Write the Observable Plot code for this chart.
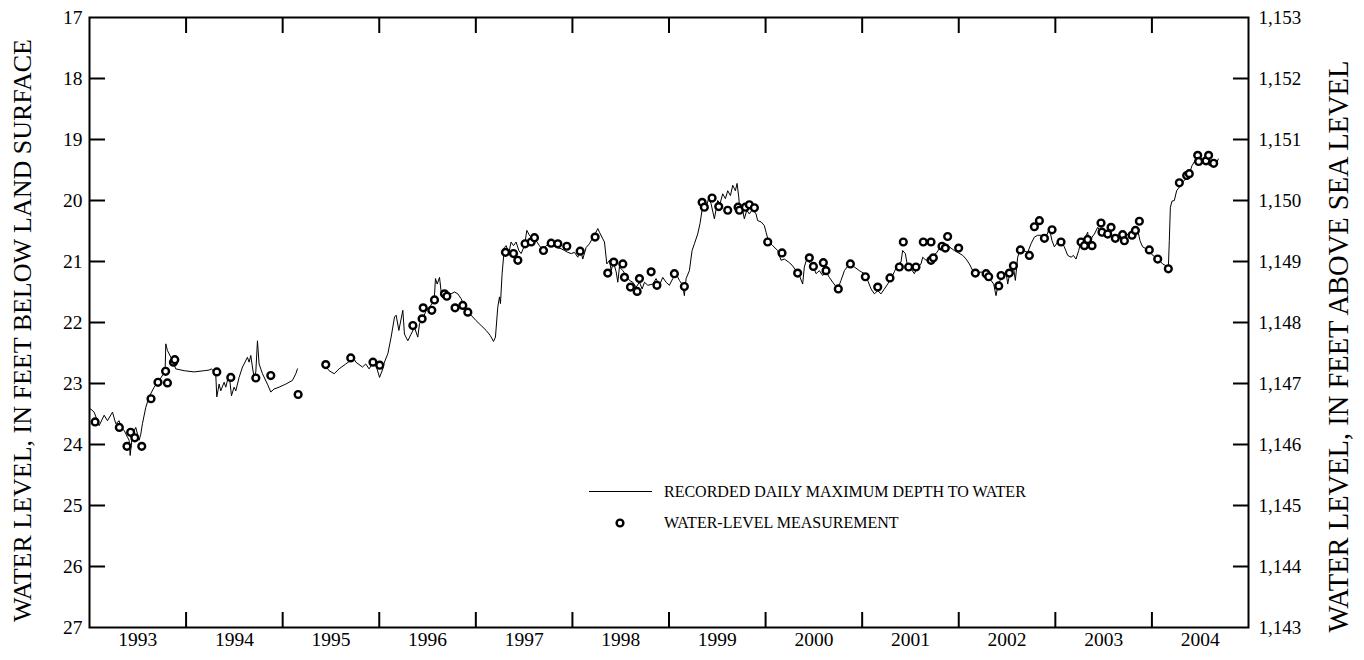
<!DOCTYPE html>
<html><head><meta charset="utf-8">
<script src="https://cdn.jsdelivr.net/npm/d3@7"></script>
<script src="https://cdn.jsdelivr.net/npm/@observablehq/plot@0.6"></script>
<style>
html,body{margin:0;padding:0;background:#fff;}
#wrap{position:relative;width:1364px;height:660px;font-family:"Liberation Serif","Times New Roman",serif;color:#000;}
.lg{position:absolute;font-size:16px;line-height:1;white-space:nowrap;transform:translateY(-50%);}
</style></head><body><div id="wrap"></div>
<script>
// ---- data ----
const landSurfaceAltitude = 1170; // ft above sea level, converts depth to altitude
const yearBoundaries = d3.range(1994, 2005);
const yearLabels = d3.range(1993, 2005);
const depthTicks = d3.range(17, 28);
const yTitleLeft = "WATER LEVEL, IN FEET BELOW LAND SURFACE";
const yTitleRight = "WATER LEVEL, IN FEET ABOVE SEA LEVEL";
const legendLabels = ["RECORDED DAILY MAXIMUM DEPTH TO WATER", "WATER-LEVEL MEASUREMENT"];

const recordedYear = [1993.000,1993.014,1993.048,1993.100,1993.152,1993.186,1993.238,1993.272,1993.307,1993.324,1993.359,1993.393,1993.410,1993.421,1993.445,1993.479,1993.514,1993.531,1993.548,1993.583,1993.617,1993.669,1993.721,1993.766,1993.783,1993.790,1993.807,1993.859,1993.893,1993.980,1994.083,1994.187,1994.238,1994.263,1994.307,1994.318,1994.342,1994.359,1994.394,1994.411,1994.445,1994.470,1994.497,1994.515,1994.549,1994.584,1994.601,1994.635,1994.653,1994.670,1994.687,1994.704,1994.722,1994.739,1994.756,1994.791,1994.842,1994.877,1994.911,1994.963,1995.032,1995.101,1995.136,1995.153,
1995.300,
1995.429,1995.481,1995.533,1995.584,1995.653,1995.705,1995.722,1995.757,1995.826,1995.860,1995.895,1995.951,1996.003,1996.037,1996.054,1996.089,1996.123,1996.158,1996.175,1996.203,1996.244,1996.261,1996.296,1996.330,1996.365,1996.399,1996.417,1996.451,1996.486,1996.520,1996.555,1996.572,1996.582,1996.600,1996.624,1996.641,1996.675,1996.710,1996.744,1996.779,1996.813,1996.848,1996.900,1996.951,1997.003,1997.055,1997.107,1997.148,1997.183,1997.203,1997.227,1997.245,1997.255,1997.272,1997.296,1997.314,1997.341,1997.365,1997.390,1997.417,1997.445,1997.469,1997.504,1997.528,1997.555,1997.590,1997.624,1997.659,1997.693,1997.728,1997.780,1997.831,1997.883,1997.918,1997.952,1997.987,1998.021,1998.056,1998.083,1998.107,1998.142,1998.176,1998.204,1998.228,1998.263,1998.280,1998.315,1998.332,1998.356,1998.384,1998.401,1998.425,1998.453,1998.470,1998.487,1998.522,1998.556,1998.591,1998.625,1998.660,1998.694,1998.722,1998.746,1998.781,1998.832,1998.866,1998.901,1998.935,1998.970,1999.004,1999.039,1999.073,1999.108,1999.142,1999.159,1999.177,1999.211,1999.239,1999.263,1999.297,1999.321,1999.342,1999.359,1999.384,1999.411,1999.435,1999.470,1999.504,1999.529,1999.556,1999.584,1999.608,1999.636,1999.660,1999.687,1999.705,1999.722,1999.736,1999.756,1999.780,1999.805,1999.832,1999.867,1999.901,1999.918,1999.953,1999.987,2000.005,2000.032,2000.074,2000.125,2000.160,2000.194,2000.239,2000.274,2000.315,2000.350,2000.384,2000.401,2000.426,2000.453,2000.495,2000.523,2000.557,2000.591,2000.626,2000.660,2000.695,2000.747,2000.781,2000.816,2000.867,2000.919,2000.971,2001.023,2001.057,2001.092,2001.126,2001.161,2001.195,2001.230,2001.264,2001.299,2001.333,2001.368,2001.402,2001.419,2001.447,2001.471,2001.506,2001.540,2001.575,2001.609,2001.627,2001.661,2001.695,2001.730,2001.765,2001.799,2001.834,2001.868,2001.903,2001.954,2001.989,2002.041,2002.076,2002.110,2002.145,2002.196,2002.231,2002.265,2002.300,2002.334,2002.362,2002.386,2002.403,2002.428,2002.455,2002.490,2002.507,2002.531,2002.566,2002.586,2002.610,2002.635,2002.669,2002.714,2002.748,2002.783,2002.817,2002.852,2002.904,2002.938,2002.966,2002.990,2003.025,2003.059,2003.093,2003.128,2003.163,2003.187,2003.214,2003.242,2003.266,2003.290,2003.311,2003.335,2003.352,2003.380,2003.404,2003.439,2003.473,2003.508,2003.542,2003.577,2003.611,2003.646,2003.680,2003.715,2003.766,2003.818,2003.853,2003.877,2003.904,2003.939,2003.973,2004.008,2004.042,2004.077,2004.111,2004.146,2004.170,2004.180,2004.191,2004.208,2004.232,2004.256,2004.284,2004.318,2004.353,2004.387,2004.415,2004.456,2004.491,2004.525,2004.560,2004.594,2004.629,2004.663,2004.688];
const recordedDepth = [23.42,23.42,23.47,23.69,23.52,23.61,23.47,23.66,23.61,23.72,23.77,23.88,23.93,24.18,23.83,23.72,23.93,23.83,23.66,23.39,23.22,23.06,22.95,22.84,22.79,22.35,22.46,22.62,22.76,22.79,22.81,22.79,22.78,22.76,22.84,23.22,23.01,23.12,22.98,23.06,22.84,23.20,23.06,23.12,22.90,22.73,22.68,22.57,22.65,22.54,22.73,22.90,22.81,22.30,22.68,22.84,23.01,23.14,23.09,23.06,23.01,22.95,22.84,22.76,
null,
22.68,22.79,22.84,22.76,22.68,22.62,22.54,22.65,22.73,22.68,22.76,22.62,22.90,22.76,22.65,22.51,22.24,21.91,21.88,22.13,21.80,22.19,22.30,22.19,22.08,22.24,22.02,21.94,21.80,21.75,21.67,21.56,21.28,21.37,21.26,21.50,21.56,21.50,21.53,21.50,21.53,21.61,21.80,21.88,21.97,22.05,22.13,22.21,22.31,22.24,21.75,21.58,21.69,21.20,20.77,20.74,20.87,20.68,20.74,20.68,20.82,20.87,20.74,20.49,20.57,20.63,20.66,20.74,20.82,20.74,20.71,20.77,20.79,20.82,20.85,20.87,20.85,20.93,20.79,20.96,20.77,20.71,20.63,20.57,20.46,20.52,20.63,20.68,21.04,20.98,21.15,21.01,21.17,21.34,21.09,21.15,21.23,21.31,21.34,21.42,21.34,21.45,21.34,21.39,21.37,21.28,21.39,21.26,21.34,21.39,21.28,21.20,21.31,21.39,21.56,21.28,21.15,20.82,20.71,20.55,20.38,20.16,20.03,20.11,19.97,20.05,20.30,20.00,20.05,19.89,19.97,19.84,19.92,19.75,19.84,19.72,19.94,20.22,20.11,20.30,20.16,20.22,20.14,20.22,20.33,20.35,20.41,20.52,20.68,20.74,20.82,20.98,20.96,21.01,21.06,21.15,21.23,21.37,21.09,20.96,21.01,21.09,21.20,21.15,21.23,21.17,21.26,21.34,21.45,21.31,21.15,21.04,21.09,21.15,21.20,21.31,21.45,21.53,21.48,21.53,21.45,21.37,21.28,21.17,21.04,21.01,20.82,20.87,21.09,21.12,21.20,21.09,21.04,20.93,20.98,20.96,20.90,20.87,20.79,20.76,20.74,20.76,20.82,20.85,20.90,20.96,21.04,21.15,21.20,21.17,21.20,21.23,21.31,21.37,21.56,21.42,21.31,21.23,21.17,21.37,21.17,21.09,21.31,20.93,20.82,20.82,20.85,20.71,20.60,20.57,20.57,20.60,20.46,20.66,20.76,20.68,20.66,20.76,20.90,20.93,20.90,20.96,20.82,20.66,20.79,20.60,20.52,20.76,20.60,20.55,20.44,20.52,20.55,20.57,20.57,20.60,20.60,20.63,20.57,20.55,20.57,20.49,20.66,20.76,20.79,20.82,20.90,20.93,20.98,21.04,21.07,21.12,20.66,20.11,20.01,20.00,19.84,19.78,19.70,19.64,19.56,19.43,19.32,19.29,19.37,19.29,19.43,19.34,19.40,19.32];

const measuredYear = [1993.058,1993.309,1993.388,1993.426,1993.469,1993.541,1993.637,1993.709,1993.788,1993.807,1993.869,1993.883,1994.318,1994.463,1994.722,1994.877,1995.160,1995.446,1995.705,1995.935,1996.005,1996.348,1996.444,1996.455,1996.544,1996.572,1996.675,1996.700,1996.785,1996.865,1996.917,1997.307,1997.390,1997.435,1997.510,1997.573,1997.607,1997.700,1997.780,1997.849,1997.942,1998.080,1998.235,1998.366,1998.428,1998.522,1998.539,1998.601,1998.670,1998.694,1998.815,1998.875,1999.056,1999.159,1999.343,1999.366,1999.446,1999.515,1999.608,1999.715,1999.729,1999.791,1999.832,1999.884,2000.022,2000.170,2000.332,2000.453,2000.495,2000.598,2000.626,2000.753,2000.878,2001.033,2001.161,2001.288,2001.385,2001.426,2001.481,2001.557,2001.633,2001.713,2001.713,2001.737,2001.827,2001.861,2001.885,2001.999,2002.172,2002.283,2002.310,2002.414,2002.438,2002.524,2002.566,2002.638,2002.731,2002.783,2002.835,2002.887,2002.966,2003.059,2003.266,2003.301,2003.335,2003.380,2003.473,2003.483,2003.542,2003.577,2003.621,2003.697,2003.715,2003.794,2003.829,2003.870,2003.973,2004.060,2004.170,2004.284,2004.360,2004.387,2004.474,2004.484,2004.560,2004.587,2004.639];
const measuredDepth = [23.63,23.72,24.03,23.80,23.89,24.03,23.25,22.98,22.80,22.99,22.65,22.61,22.81,22.90,22.91,22.87,23.18,22.69,22.58,22.65,22.70,22.05,21.94,21.76,21.80,21.63,21.53,21.57,21.76,21.72,21.83,20.85,20.87,20.98,20.71,20.68,20.61,20.82,20.70,20.71,20.75,20.83,20.60,21.19,21.01,21.04,21.26,21.42,21.49,21.28,21.17,21.39,21.20,21.41,20.03,20.11,19.96,20.10,20.16,20.11,20.16,20.11,20.07,20.12,20.68,20.86,21.19,20.94,21.08,21.02,21.15,21.45,21.04,21.25,21.42,21.27,21.09,20.68,21.09,21.09,20.68,20.68,20.98,20.94,20.75,20.78,20.59,20.78,21.19,21.20,21.25,21.40,21.23,21.19,21.07,20.81,20.90,20.43,20.33,20.62,20.48,20.68,20.68,20.74,20.64,20.74,20.37,20.52,20.55,20.44,20.62,20.56,20.66,20.57,20.49,20.34,20.81,20.96,21.12,19.71,19.59,19.56,19.26,19.36,19.35,19.26,19.39];

// ---- build ----
const recorded = recordedYear.map((x, i) => ({x, y: recordedDepth[i]}));
const measured = measuredYear.map((x, i) => ({x, y: measuredDepth[i]}));
const fmt = d3.format(",");
const innerDepth = depthTicks.slice(1, -1);

const chart = Plot.plot({
  width: 1364, height: 660,
  marginLeft: 89, marginRight: 116, marginTop: 17, marginBottom: 33,
  style: {fontFamily: '"Liberation Serif","Times New Roman",serif', fontSize: "19px", color: "black", background: "white", overflow: "visible"},
  x: {domain: [1993, 2005], label: null},
  y: {domain: [17, 27], reverse: true, label: null},
  marks: [
    Plot.line(recorded, {x: "x", y: "y", stroke: "black", strokeWidth: 1}),
    Plot.dot(measured, {x: "x", y: "y", r: 3.4, stroke: "black", strokeWidth: 2.4, fill: "white"}),
    // inward ticks
    Plot.axisX({anchor: "bottom", ticks: yearBoundaries, tickSize: -15, tickFormat: () => "", strokeWidth: 2, label: null}),
    Plot.axisX({anchor: "top", ticks: yearBoundaries, tickSize: -15, tickFormat: () => "", strokeWidth: 2, label: null}),
    Plot.axisY({anchor: "left", ticks: innerDepth, tickSize: -16, tickFormat: () => "", strokeWidth: 2, label: null}),
    Plot.axisY({anchor: "right", ticks: innerDepth, tickSize: -16, tickFormat: () => "", strokeWidth: 2, label: null}),
    // labels
    Plot.axisX({anchor: "bottom", ticks: yearLabels.map(y => y + 0.5), tickSize: 0, tickPadding: 5, tickFormat: d => String(Math.floor(d)), label: null, fontSize: 19.5}),
    Plot.axisY({anchor: "left", ticks: depthTicks, tickSize: 0, tickPadding: 7, label: null, fontSize: 19.5}),
    Plot.axisY({anchor: "right", ticks: depthTicks, tickSize: 0, tickPadding: 10, tickFormat: d => fmt(landSurfaceAltitude - d), label: null, fontSize: 19}),
    Plot.frame({stroke: "black", strokeWidth: 2}),
    Plot.text([yTitleLeft], {text: d => d, frameAnchor: "left", textAnchor: "middle", dx: -67, dy: 8, rotate: -90, fontSize: 26}),
    Plot.text([yTitleRight], {text: d => d, frameAnchor: "right", textAnchor: "middle", dx: 90, dy: 24, rotate: -90, fontSize: 28.5})
  ]
});
const wrap = document.getElementById("wrap");
wrap.appendChild(chart);

// legend
const lg = document.createElement("div");
lg.innerHTML = `
<div style="position:absolute;left:589px;top:491px;width:63px;height:0;border-top:1px solid #000"></div>
<div class="lg" style="left:664px;top:492px">${legendLabels[0]}</div>
<svg style="position:absolute;left:612px;top:515px" width="16" height="16"><circle cx="8" cy="8" r="3.4" fill="#fff" stroke="#000" stroke-width="2.4"/></svg>
<div class="lg" style="left:664px;top:523px">${legendLabels[1]}</div>`;
wrap.appendChild(lg);
</script>
</body></html>
